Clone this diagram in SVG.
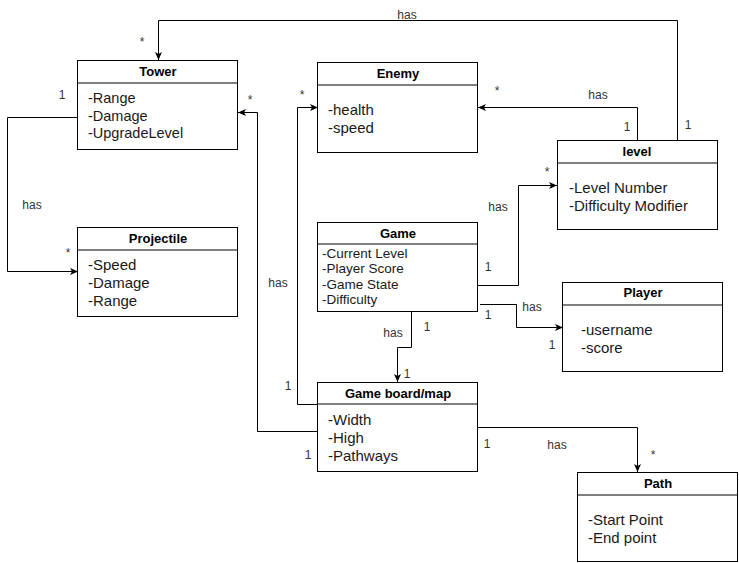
<svg xmlns="http://www.w3.org/2000/svg" width="739" height="563" viewBox="0 0 739 563">
<style>
.box{fill:#fff;stroke:#000;stroke-width:1}
.div{stroke:#808080;stroke-width:2}
.title{font-family:"Liberation Sans",Arial,sans-serif;font-size:13px;font-weight:bold;fill:#000;text-anchor:middle;dominant-baseline:central}
.attr{font-family:"Liberation Sans",Arial,sans-serif;font-size:15px;fill:#1a1a1a;dominant-baseline:central}
.small{font-size:13.5px}
.t14{font-size:14.5px}
.lbl{font-family:"Liberation Sans",Arial,sans-serif;font-size:12px;fill:#333;text-anchor:middle;dominant-baseline:central}
.conn{fill:none;stroke:#000;stroke-width:1;marker-end:url(#arr)}
</style>
<defs>
<marker id="arr" markerUnits="userSpaceOnUse" markerWidth="10" markerHeight="10" refX="8" refY="3.5" orient="auto">
<path d="M0,0 L8,3.5 L0,7 L2,3.5 z" fill="#000"/>
</marker>
</defs>
<rect width="739" height="563" fill="#fff"/>
<g id="connectors">
<path class="conn" d="M677.5 140 V20.5 H158.5 V60"/>
<path class="conn" d="M637.5 140 V107.5 H478"/>
<path class="conn" d="M478 285.5 H518.5 V185.5 H557"/>
<path class="conn" d="M480 304.5 H516.5 V327.5 H563"/>
<path class="conn" d="M411.5 312 V347.5 H397.5 V382"/>
<path class="conn" d="M318 404.5 H297.5 V107.5 H318"/>
<path class="conn" d="M318 431.5 H257.5 V112.5 H238"/>
<path class="conn" d="M78 117.5 H7.5 V271.5 H78"/>
<path class="conn" d="M478 427.5 H637.5 V472"/>
<text class="lbl" x="407" y="15">has</text>
<text class="lbl" x="142" y="42">*</text>
<text class="lbl" x="688" y="125">1</text>
<text class="lbl" x="497" y="91">*</text>
<text class="lbl" x="598" y="95">has</text>
<text class="lbl" x="627" y="127">1</text>
<text class="lbl" x="547" y="172">*</text>
<text class="lbl" x="498" y="207">has</text>
<text class="lbl" x="488" y="267">1</text>
<text class="lbl" x="532" y="307">has</text>
<text class="lbl" x="488" y="315">1</text>
<text class="lbl" x="552" y="345">1</text>
<text class="lbl" x="393" y="333">has</text>
<text class="lbl" x="427" y="327">1</text>
<text class="lbl" x="407" y="374">1</text>
<text class="lbl" x="302" y="95">*</text>
<text class="lbl" x="288" y="386">1</text>
<text class="lbl" x="278" y="283">has</text>
<text class="lbl" x="250" y="100">*</text>
<text class="lbl" x="308" y="455">1</text>
<text class="lbl" x="62" y="95">1</text>
<text class="lbl" x="32" y="205">has</text>
<text class="lbl" x="68" y="253">*</text>
<text class="lbl" x="487" y="444">1</text>
<text class="lbl" x="557" y="445">has</text>
<text class="lbl" x="653" y="455">*</text>
</g>
<g id="tower">
<rect class="box" x="77.5" y="60.5" width="160" height="89"/>
<line class="div" x1="78" y1="83" x2="237" y2="83"/>
<text class="title" x="158" y="71">Tower</text>
<text class="attr t14" x="88" y="98">-Range</text>
<text class="attr t14" x="88" y="116">-Damage</text>
<text class="attr t14" x="88" y="133">-UpgradeLevel</text>
</g>
<g id="enemy">
<rect class="box" x="317.5" y="62.5" width="160" height="90"/>
<line class="div" x1="318" y1="85" x2="477" y2="85"/>
<text class="title" x="398" y="73">Enemy</text>
<text class="attr" x="328" y="109">-health</text>
<text class="attr" x="328" y="127">-speed</text>
</g>
<g id="level">
<rect class="box" x="557.5" y="140.5" width="160" height="89"/>
<line class="div" x1="558" y1="163" x2="717" y2="163"/>
<text class="title" x="637" y="151">level</text>
<text class="attr" x="569" y="187.5">-Level Number</text>
<text class="attr" x="569" y="205">-Difficulty Modifier</text>
</g>
<g id="game">
<rect class="box" x="317.5" y="222.5" width="160" height="89"/>
<line class="div" x1="318" y1="244" x2="477" y2="244"/>
<text class="title" x="398" y="233">Game</text>
<text class="attr small" x="322" y="253.5">-Current Level</text>
<text class="attr small" x="322" y="268.5">-Player Score</text>
<text class="attr small" x="322" y="284">-Game State</text>
<text class="attr small" x="322" y="299.5">-Difficulty</text>
</g>
<g id="player">
<rect class="box" x="562.5" y="282.5" width="160" height="89"/>
<line class="div" x1="563" y1="305" x2="722" y2="305"/>
<text class="title" x="643" y="292.5">Player</text>
<text class="attr" x="581" y="329">-username</text>
<text class="attr" x="581" y="347">-score</text>
</g>
<g id="projectile">
<rect class="box" x="77.5" y="227.5" width="160" height="89"/>
<line class="div" x1="78" y1="250" x2="237" y2="250"/>
<text class="title" x="158" y="238">Projectile</text>
<text class="attr" x="88" y="264.5">-Speed</text>
<text class="attr" x="88" y="282.5">-Damage</text>
<text class="attr" x="88" y="300.5">-Range</text>
</g>
<g id="gameboard">
<rect class="box" x="317.5" y="382.5" width="160" height="89"/>
<line class="div" x1="318" y1="404" x2="477" y2="404"/>
<text class="title" x="398" y="393">Game board/map</text>
<text class="attr" x="328" y="419.5">-Width</text>
<text class="attr" x="328" y="437">-High</text>
<text class="attr" x="328" y="455.5">-Pathways</text>
</g>
<g id="path">
<rect class="box" x="577.5" y="472.5" width="160" height="89"/>
<line class="div" x1="578" y1="495" x2="737" y2="495"/>
<text class="title" x="658" y="483">Path</text>
<text class="attr" x="588" y="519">-Start Point</text>
<text class="attr" x="588" y="537">-End point</text>
</g>
</svg>
